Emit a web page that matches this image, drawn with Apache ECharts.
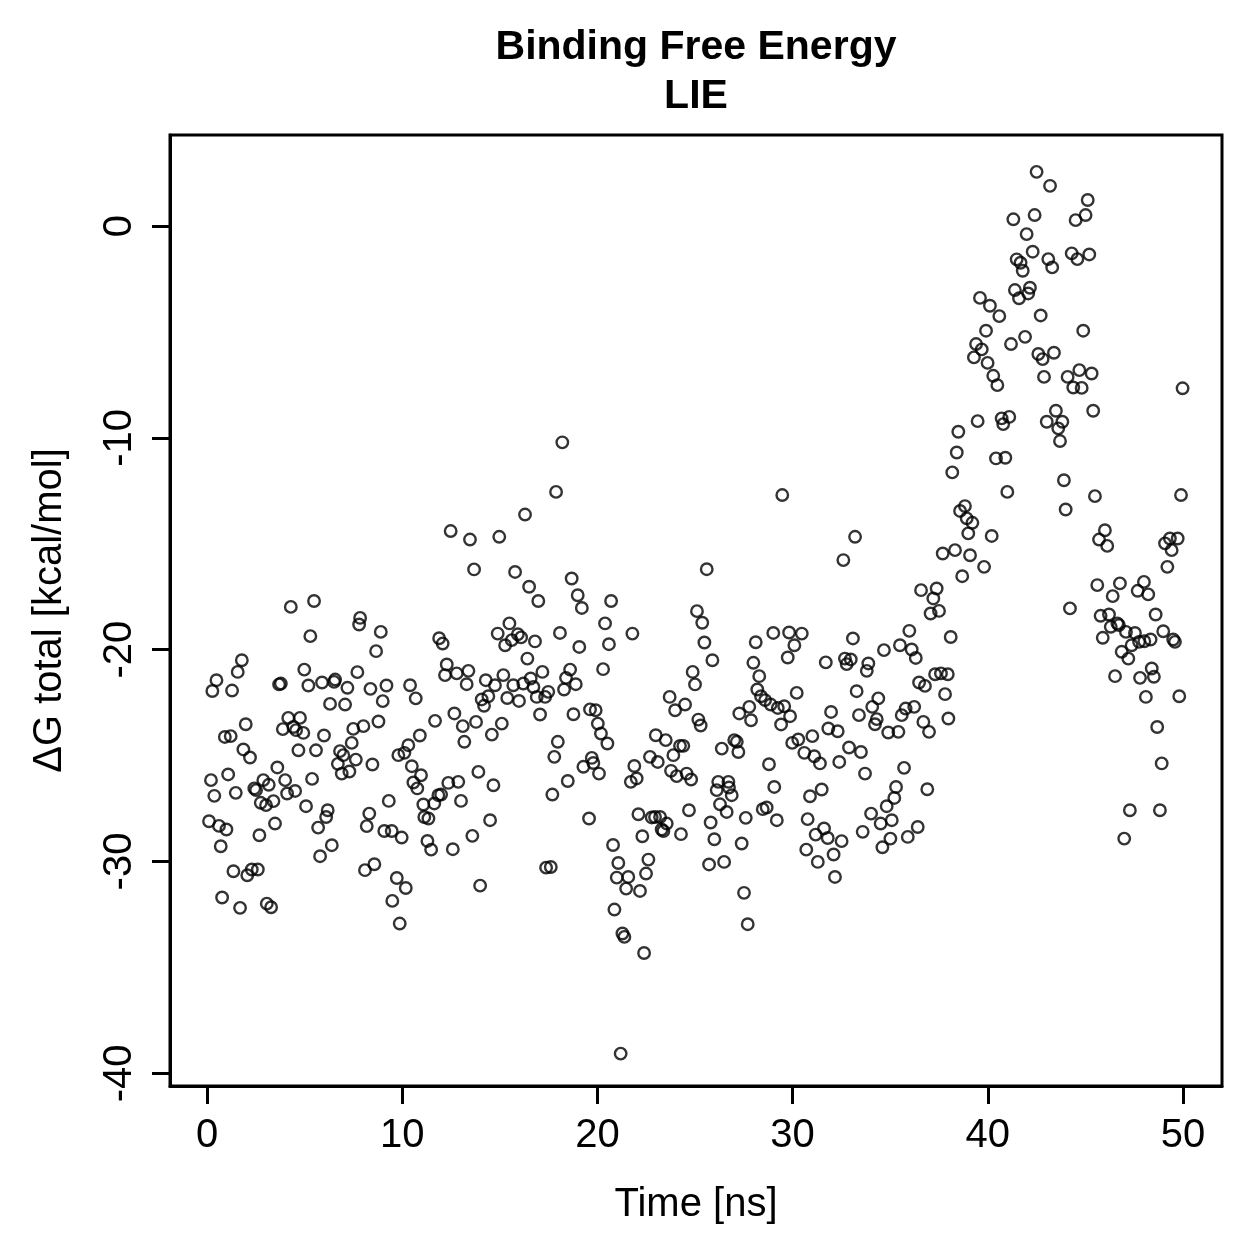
<!DOCTYPE html>
<html>
<head>
<meta charset="utf-8">
<title>Binding Free Energy LIE</title>
<script src="https://cdn.jsdelivr.net/npm/echarts@6/dist/echarts.min.js"></script>
<style>
  html, body { margin: 0; padding: 0; background: #fff; }
  #chart { width: 1259px; height: 1259px; }
</style>
</head>
<body>
<div id="chart"></div>
<script>
// [time (ns), dG total (kcal/mol)], grouped by time window
const block0to10a = [
  [4.29,-17.98],[5.48,-17.70],[7.84,-18.50],[7.79,-18.81],[8.90,-19.16],[5.29,-19.36],[8.66,-20.07],[1.78,-20.50],
  [1.57,-21.05],[4.98,-20.94],[7.70,-21.06],[0.48,-21.44],[0.27,-21.95],[1.28,-21.93],[3.69,-21.64],[3.78,-21.60],
  [5.19,-21.69],[5.89,-21.55],[6.56,-21.41],[6.51,-21.52],[7.19,-21.80],[8.37,-21.85],[9.19,-21.69],[6.30,-22.56],
  [7.07,-22.59],[9.00,-22.43],[1.98,-23.52],[4.16,-23.22],[4.76,-23.22],[3.88,-23.75],[4.42,-23.65],[4.56,-23.80],
  [4.93,-23.93],[0.91,-24.12],[1.21,-24.08],[5.99,-24.05],[7.49,-23.74],[8.01,-23.61],[8.78,-23.39],[1.86,-24.71],
  [2.20,-25.09],[4.68,-24.75],[5.58,-24.75],[6.81,-24.79],[6.98,-24.98],[7.41,-24.40],[7.62,-25.19],[6.70,-25.39],
  [6.90,-25.85],[7.29,-25.75],[8.47,-25.42],[3.60,-25.56],[0.20,-26.16],[1.08,-25.89],[2.88,-26.16],[3.16,-26.38],
  [4.00,-26.16],[5.38,-26.10],[0.37,-26.90],[1.47,-26.76],[2.42,-26.55],[2.51,-26.63],[4.10,-26.79],[4.51,-26.67],
  [2.75,-27.23],[3.02,-27.34],[3.40,-27.15],[5.07,-27.39],[6.18,-27.58],[6.10,-27.90],[8.31,-27.74],[9.31,-27.14],
  [0.10,-28.10],[0.61,-28.32],[0.99,-28.49],[3.48,-28.21],[5.69,-28.40],[8.18,-28.33],[9.08,-28.56],[9.46,-28.56],
  [2.68,-28.76]
];
const block0to10b = [
  [0.70,-29.28],[1.35,-30.46],[2.06,-30.65],[2.29,-30.38],[2.60,-30.38],[0.77,-31.70],[1.69,-32.19],[3.06,-31.99],
  [3.28,-32.16],[6.39,-29.23],[5.79,-29.75],[8.09,-30.41],[8.57,-30.13]
];
const block10to20a = [
  [18.20,-10.21],[17.88,-12.55],[16.29,-13.62],[12.48,-14.40],[13.47,-14.80],[14.97,-14.67],[13.68,-16.21],[15.78,-16.33],
  [16.50,-17.03],[16.97,-17.70],[18.68,-16.64],[18.99,-17.43],[19.20,-18.03],[11.89,-19.46],[12.07,-19.71],[15.49,-18.76],
  [14.89,-19.24],[15.27,-19.79],[15.61,-19.55],[15.92,-19.27],[16.09,-19.42],[16.80,-19.61],[18.08,-19.21],[19.07,-19.87],
  [16.41,-20.42],[12.28,-20.70],[12.19,-21.20],[12.79,-21.12],[13.39,-21.00],[13.30,-21.63],[10.40,-21.68],[10.69,-22.30],
  [14.28,-21.44],[14.75,-21.68],[15.18,-21.20],[15.69,-21.68],[16.20,-21.60],[16.58,-21.36],[16.72,-21.76],[17.18,-21.05],
  [18.60,-20.94],[18.39,-21.33],[18.89,-21.63],[18.29,-21.88],[14.07,-22.35],[14.41,-22.20],[14.19,-22.65],[15.38,-22.28],
  [15.98,-22.42],[16.89,-22.23],[17.32,-22.23],[17.48,-21.99],[17.06,-23.06],[18.77,-23.05],[11.68,-23.36],[12.67,-23.01],
  [13.10,-23.61],[13.78,-23.41],[13.18,-24.35],[14.59,-24.01],[15.10,-23.49],[10.90,-24.05],[10.31,-24.51],[9.80,-24.98],
  [10.11,-24.87],[17.97,-24.35],[17.79,-25.06]
];
const block10to20b = [
  [10.49,-25.50],[10.96,-25.93],[10.57,-26.27],[10.77,-26.55],[11.08,-27.31],[11.64,-27.26],[11.85,-26.87],[11.99,-26.84],
  [12.36,-26.29],[12.87,-26.24],[13.01,-27.14],[13.90,-25.77],[14.67,-26.40],[18.48,-26.20],[17.69,-26.84],[19.28,-25.53],
  [11.13,-27.90],[11.34,-27.97],[9.97,-28.87],[11.29,-29.03],[11.48,-29.44],[12.59,-29.42],[13.59,-28.79],[14.50,-28.05],
  [9.72,-30.78],[10.18,-31.25],[9.49,-31.86],[9.87,-32.93],[13.99,-31.14],[17.37,-30.29],[17.61,-30.26]
];
const block20to30a = [
  [29.47,-12.70],[25.60,-16.20],[20.70,-17.70],[20.39,-18.76],[21.79,-19.24],[20.59,-19.74],[20.29,-20.92],[25.10,-18.18],
  [25.37,-18.73],[25.48,-19.66],[25.89,-20.50],[24.88,-21.05],[25.00,-21.64],[28.11,-19.65],[29.01,-19.21],[27.99,-20.62],
  [28.29,-21.25],[28.19,-21.88],[28.38,-22.20],[28.59,-22.38],[28.88,-22.59],[29.24,-22.75],[29.57,-22.67],[27.78,-22.70],
  [27.27,-23.01],[27.87,-23.33],[29.41,-23.53],[19.62,-22.82],[19.91,-22.86],[20.02,-23.49],[20.18,-23.96],[20.51,-24.43],
  [23.70,-22.23],[23.98,-22.86],[24.49,-22.59],[25.17,-23.30],[25.29,-23.58],[22.99,-24.04],[23.50,-24.27],[24.23,-24.54],
  [24.40,-24.54],[23.89,-24.98],[22.69,-25.06],[23.09,-25.30],[23.77,-25.72],[21.89,-25.49],[26.37,-24.67],[27.01,-24.27],
  [27.14,-24.35],[27.22,-24.83],[28.79,-25.41],[19.71,-25.11],[19.79,-25.35],[20.08,-25.85]
];
const block20to30b = [
  [21.71,-26.24],[22.01,-26.08],[24.06,-25.97],[24.57,-25.85],[24.80,-26.13],[26.19,-26.24],[26.71,-26.24],[26.11,-26.63],
  [26.88,-26.87],[26.74,-26.51],[26.28,-27.30],[26.62,-27.66],[29.06,-26.48],[19.57,-27.97],[22.10,-27.77],[22.78,-27.92],
  [22.95,-27.90],[23.21,-27.90],[23.55,-28.21],[23.29,-28.49],[23.38,-28.56],[24.69,-27.58],[22.30,-28.81],[24.28,-28.71],
  [25.80,-28.16],[25.99,-28.95],[27.60,-27.94],[28.47,-27.53],[28.67,-27.45],[29.19,-28.05],[27.39,-29.15],[20.80,-29.22],
  [21.07,-30.07],[22.61,-29.91],[22.49,-30.57],[20.99,-30.76],[21.58,-30.73],[21.47,-31.28],[22.18,-31.39],[25.72,-30.14],
  [26.49,-30.02],[27.51,-31.48],[27.70,-32.96],[20.87,-32.27],[21.28,-33.40],[21.38,-33.56],[22.39,-34.32],[21.19,-39.07]
];
const block30to40a = [
  [38.18,-11.63],[38.83,-13.22],[38.58,-13.45],[38.92,-13.80],[39.21,-14.01],[39.00,-14.51],[33.20,-14.67],[32.60,-15.77],
  [37.69,-15.46],[38.32,-15.30],[39.09,-15.54],[39.81,-16.09],[38.69,-16.53],[36.58,-17.19],[37.38,-17.11],[37.21,-17.58],
  [37.07,-18.29],[37.50,-18.17],[35.98,-19.11],[38.10,-19.40],[29.82,-19.19],[30.47,-19.24],[30.09,-19.79],[29.75,-20.37],
  [33.09,-19.47],[34.68,-20.02],[35.50,-19.79],[36.10,-19.99],[36.31,-20.39],[31.70,-20.60],[32.68,-20.42],[32.98,-20.46],
  [32.77,-20.68],[33.88,-20.65],[33.80,-21.00],[29.87,-23.14],[30.21,-22.04],[33.28,-21.96],[34.39,-22.30],[34.08,-22.70],
  [31.97,-22.94],[33.40,-23.09],[34.31,-23.28],[34.22,-23.52],[35.59,-23.09],[35.79,-22.78],[36.23,-22.70],[36.48,-21.55],
  [36.78,-21.71],[37.30,-21.16],[37.60,-21.12],[37.95,-21.16],[37.81,-22.10],[37.98,-23.25],[36.70,-23.41],[36.99,-23.88],
  [31.83,-23.72],[32.31,-23.85],[34.90,-23.91],[35.42,-23.88]
];
const block30to40b = [
  [29.98,-24.40],[30.29,-24.24],[31.01,-24.08],[30.60,-24.87],[31.11,-25.03],[31.40,-25.37],[32.89,-24.62],[33.50,-24.83],
  [32.39,-25.30],[33.71,-25.85],[35.71,-25.58],[30.89,-26.92],[31.49,-26.60],[35.30,-26.48],[35.21,-27.00],[34.82,-27.39],
  [36.90,-26.59],[34.02,-27.74],[34.51,-28.21],[35.08,-28.05],[33.59,-28.60],[30.77,-28.00],[31.61,-28.44],[31.18,-28.73],
  [31.80,-28.89],[32.51,-29.04],[30.70,-29.44],[31.29,-30.02],[32.10,-29.67],[32.17,-30.73],[35.01,-28.92],[34.60,-29.33],
  [35.90,-28.84],[36.41,-28.37]
];
const block40to50a = [
  [42.50,2.56],[43.19,1.90],[45.12,1.23],[45.01,0.52],[44.50,0.28],[41.31,0.32],[42.40,0.52],[41.99,-0.38],
  [42.30,-1.21],[41.48,-1.57],[41.68,-1.73],[41.79,-2.11],[43.10,-1.56],[43.30,-1.95],[44.30,-1.29],[44.59,-1.56],
  [45.20,-1.34],[41.39,-3.02],[41.60,-3.41],[42.16,-2.91],[42.07,-3.18],[39.60,-3.39],[40.11,-3.76],[40.59,-4.25],
  [42.71,-4.22],[44.89,-4.94],[39.91,-4.94],[39.40,-5.57],[39.69,-5.82],[39.29,-6.20],[39.99,-6.46],[41.19,-5.57],
  [41.91,-5.23],[42.59,-6.04],[42.81,-6.28],[43.39,-5.98],[40.28,-7.07],[40.49,-7.51],[42.88,-7.12],[44.09,-7.12],
  [44.69,-6.80],[45.32,-6.96],[44.38,-7.62],[44.81,-7.64],[49.98,-7.66],[45.40,-8.72],[43.49,-8.72],[43.02,-9.24],
  [43.82,-9.24],[43.61,-9.55],[43.70,-10.15],[39.48,-9.21],[40.71,-9.08],[41.10,-9.01],[40.79,-9.35],[38.49,-9.71],
  [38.41,-10.69],[40.42,-10.97],[40.90,-10.94]
];
const block40to50b = [
  [41.00,-12.55],[43.90,-12.00],[43.99,-13.38],[45.49,-12.75],[49.90,-12.70],[40.20,-14.63],[46.00,-14.36],[45.70,-14.80],
  [46.12,-15.10],[49.33,-14.75],[49.73,-14.75],[49.08,-14.98],[49.42,-15.30],[49.20,-16.09],[45.61,-16.95],[46.77,-16.87],
  [46.40,-17.47],[48.00,-16.80],[47.68,-17.22],[48.22,-17.39],[44.21,-18.05],[45.78,-18.40],[46.21,-18.34],[46.30,-18.92],
  [46.64,-18.76],[46.72,-18.84],[47.08,-19.16],[47.54,-19.21],[47.37,-19.79],[47.75,-19.63],[48.02,-19.60],[48.34,-19.52],
  [45.89,-19.44],[48.60,-18.34],[48.99,-19.13],[49.50,-19.52],[49.59,-19.63],[46.86,-20.10],[47.20,-20.42],[48.40,-20.89],
  [48.51,-21.28],[47.80,-21.33],[46.52,-21.25],[48.10,-22.23],[49.81,-22.20],[48.68,-23.65],[48.91,-25.37],[47.28,-27.58],
  [48.82,-27.58],[46.99,-28.92]
];

const xTicks = [0, 10, 20, 30, 40, 50];
const yTicks = [-40, -30, -20, -10, 0];

const points = [].concat(
  block0to10a, block0to10b, block10to20a, block10to20b,
  block20to30a, block20to30b, block30to40a, block30to40b,
  block40to50a, block40to50b
);

const chart = echarts.init(document.getElementById("chart"));
const font = "Liberation Sans";

const option = {
  backgroundColor: "#ffffff",
  animation: false,
  title: {
    text: "Binding Free Energy\nLIE",
    left: 696,
    top: 23,
    padding: 0,
    textAlign: "center",
    textStyle: {
      fontFamily: font,
      fontWeight: "bold",
      fontSize: 41,
      lineHeight: 49,
      color: "#000",
    },
  },
  grid: {
    left: 170,
    top: 135,
    width: 1052,
    height: 951,
    show: true,
    borderColor: "#000",
    borderWidth: 3,
    backgroundColor: "transparent",
  },
  xAxis: {
    type: "value",
    min: -1.9,
    max: 52,
    name: "Time [ns]",
    nameLocation: "middle",
    nameGap: 99,
    nameTextStyle: { fontFamily: font, fontSize: 40, color: "#000" },
    splitLine: { show: false },
    axisLine: { show: true, onZero: false, lineStyle: { color: "#000", width: 3 } },
    axisTick: {
      show: true,
      length: 18,
      lineStyle: { color: "#000", width: 3 },
      customValues: xTicks,
    },
    axisLabel: {
      fontFamily: font,
      fontSize: 40,
      color: "#000",
      margin: 30,
      customValues: xTicks,
    },
  },
  yAxis: {
    type: "value",
    min: -40.6,
    max: 4.3,
    name: "ΔG total [kcal/mol]",
    nameLocation: "middle",
    nameGap: 100,
    nameTextStyle: { fontFamily: font, fontSize: 40, color: "#000" },
    splitLine: { show: false },
    axisLine: { show: true, onZero: false, lineStyle: { color: "#000", width: 3 } },
    axisTick: {
      show: true,
      length: 18,
      lineStyle: { color: "#000", width: 3 },
      customValues: yTicks,
    },
    axisLabel: {
      fontFamily: font,
      fontSize: 40,
      color: "#000",
      rotate: 90,
      margin: 30,
      customValues: yTicks,
    },
  },
  series: [
    {
      type: "scatter",
      data: points,
      symbol: "circle",
      symbolSize: 11.5,
      itemStyle: {
        color: "rgba(0,0,0,0)",
        borderColor: "#000",
        borderWidth: 2.4,
      },
      emphasis: { disabled: true },
    },
  ],
};

chart.setOption(option);
</script>
</body>
</html>
